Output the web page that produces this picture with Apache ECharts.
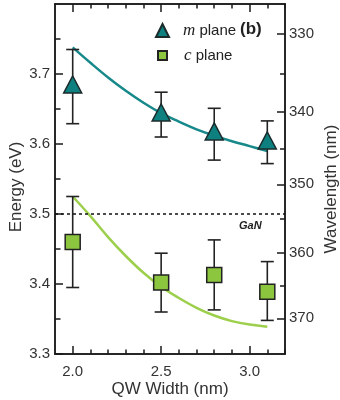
<!DOCTYPE html>
<html>
<head>
<meta charset="utf-8">
<script src="https://cdn.jsdelivr.net/npm/echarts@6/dist/echarts.min.js"></script>
<style>html,body{margin:0;padding:0;background:#fff;}#c{width:340px;height:400px;}</style>
</head>
<body>
<div id="c"></div>
<script>
// ---- data ----
const widths = [2.0, 2.5, 2.8, 3.1];
const mEnergy = [3.685, 3.645, 3.618, 3.605];
const mLow = [3.629, 3.610, 3.577, 3.572];
const mHigh = [3.735, 3.674, 3.651, 3.633];
const cEnergy = [3.460, 3.402, 3.413, 3.389];
const cLow = [3.395, 3.360, 3.363, 3.348];
const cHigh = [3.525, 3.444, 3.463, 3.432];
const fitWidths = [2.0, 2.1, 2.2, 2.3, 2.4, 2.5, 2.6, 2.7, 2.8, 2.9, 3.0, 3.1];
const mFit = [3.738, 3.716, 3.695, 3.676, 3.659, 3.644, 3.632, 3.621, 3.612, 3.604, 3.597, 3.590];
const cFit = [3.525, 3.497, 3.467, 3.440, 3.416, 3.396, 3.380, 3.366, 3.355, 3.347, 3.342, 3.339];
const ganEnergy = 3.5;
const xMajorTicks = [2.0, 2.5, 3.0];
const xMinorTicks = [2.1, 2.2, 2.3, 2.4, 2.6, 2.7, 2.8, 2.9, 3.1, 3.2];
const eMajorTicks = [3.3, 3.4, 3.5, 3.6, 3.7];
const eMinorTicks = [3.35, 3.45, 3.55, 3.65, 3.75];
const lambdaMajor = [330, 340, 350, 360, 370];
const lambdaMinor = [335, 345, 355, 365];
const HC = 1239.84;

// ---- chart ----
const font = "'Liberation Sans', Arial, sans-serif";
const axisColor = '#1a1a1a';
const labelColor = '#333';
const X_MIN = 1.9, X_MAX = 3.2, Y_MIN = 3.3, Y_MAX = 3.8;

function xAx(pos, ticks, len, withLabel) {
  return {
    type: 'value', position: pos, min: X_MIN, max: X_MAX,
    axisLine: { show: true, onZero: false, lineStyle: { color: axisColor, width: 1.5 } },
    axisTick: { show: true, inside: true, length: len, customValues: ticks, lineStyle: { color: axisColor, width: 1.5 } },
    axisLabel: withLabel ? { show: true, customValues: xMajorTicks, margin: 10, fontSize: 15, color: labelColor, fontFamily: font,
      formatter: v => v.toFixed(1) } : { show: false },
    splitLine: { show: false }
  };
}
function yAx(pos, ticks, len, labels, fmt) {
  return {
    type: 'value', position: pos, min: Y_MIN, max: Y_MAX,
    axisLine: { show: true, onZero: false, lineStyle: { color: axisColor, width: 1.5 } },
    axisTick: { show: true, inside: true, length: len, customValues: ticks, lineStyle: { color: axisColor, width: 1.5 } },
    axisLabel: labels ? { show: true, customValues: labels, margin: pos === 'left' ? 5 : 4, fontSize: 15, color: labelColor, fontFamily: font,
      formatter: fmt } : { show: false },
    splitLine: { show: false }
  };
}

const xAxes = [
  Object.assign(xAx('bottom', xMajorTicks, 8, true), {
    name: 'QW Width (nm)', nameLocation: 'middle', nameGap: 27, nameMoveOverlap: false,
    nameTextStyle: { fontSize: 17, color: labelColor, fontFamily: font }
  }),
  xAx('bottom', xMinorTicks, 4.5, false),
  xAx('top', xMajorTicks, 8, false),
  xAx('top', xMinorTicks, 4.5, false)
];
const lamE = l => HC / l;
const yAxes = [
  Object.assign(yAx('left', eMajorTicks, 8, eMajorTicks, v => v.toFixed(1)), {
    name: 'Energy (eV)', nameLocation: 'middle', nameGap: 30, nameRotate: 90, nameMoveOverlap: false,
    nameTextStyle: { fontSize: 17, color: labelColor, fontFamily: font, padding: [0, 16, 0, 0] }
  }),
  yAx('left', eMinorTicks, 5.5, null),
  Object.assign(yAx('right', lambdaMajor.map(lamE), 8, lambdaMajor.map(lamE), v => String(Math.round(HC / v))), {
    name: 'Wavelength (nm)', nameLocation: 'middle', nameGap: 38, nameRotate: 90, nameMoveOverlap: false,
    nameTextStyle: { fontSize: 17, color: labelColor, fontFamily: font, padding: [0, 20, 0, 0] }
  }),
  yAx('right', lambdaMinor.map(lamE), 5, null)
];

function errSeries(lo, hi) {
  return {
    type: 'custom', xAxisIndex: 0, yAxisIndex: 0, z: 3,
    data: widths.map((w, i) => [w, lo[i], hi[i]]),
    encode: { x: 0, y: [1, 2] },
    renderItem: function (params, api) {
      const x = api.value(0), l = api.value(1), h = api.value(2);
      const t = api.coord([x, h]), b = api.coord([x, l]);
      const hw = 6.5;
      const st = { stroke: '#222', lineWidth: 1.6 };
      return { type: 'group', children: [
        { type: 'line', shape: { x1: t[0], y1: t[1], x2: b[0], y2: b[1] }, style: st },
        { type: 'line', shape: { x1: t[0] - hw, y1: t[1], x2: t[0] + hw, y2: t[1] }, style: st },
        { type: 'line', shape: { x1: b[0] - hw, y1: b[1], x2: b[0] + hw, y2: b[1] }, style: st }
      ] };
    }
  };
}

const tealFill = '#0f8080', tealLine = '#17898a';
const greenFill = '#8cc63f', greenLine = '#9ccf4b';

const option = {
  animation: false,
  backgroundColor: '#fff',
  grid: { left: 55, right: 55, top: 4, bottom: 46, containLabel: false, outerBoundsMode: 'none' },
  xAxis: xAxes,
  yAxis: yAxes,
  title: [
    { text: '(b)', left: 240, top: 21, padding: 0, textStyle: { fontSize: 17, fontWeight: 'bold', color: '#222', fontFamily: font } },
    { text: 'GaN', left: 239, top: 220, padding: 0, textStyle: { fontSize: 11, fontWeight: 'bold', fontStyle: 'italic', color: '#222', fontFamily: font } }
  ],
  legend: [
    { left: 155, top: 22, padding: 0, itemWidth: 13, itemHeight: 13, selectedMode: false, orient: 'vertical',
      data: [{ name: 'm plane', icon: 'triangle' }],
      formatter: () => '{s|}{i|m}{t| plane}',
      textStyle: { rich: {
        s: { width: 9 },
        i: { fontFamily: "'Liberation Serif', serif", fontStyle: 'italic', fontSize: 17, color: '#222' },
        t: { fontFamily: font, fontSize: 15, color: '#222' } } } },
    { left: 157, top: 47, padding: 0, itemWidth: 9, itemHeight: 9, selectedMode: false, orient: 'vertical',
      data: [{ name: 'c plane', icon: 'rect' }],
      formatter: () => '{s|}{i|c}{t| plane}',
      textStyle: { rich: {
        s: { width: 12 },
        i: { fontFamily: "'Liberation Serif', serif", fontStyle: 'italic', fontSize: 17, color: '#222' },
        t: { fontFamily: font, fontSize: 15, color: '#222' } } } }
  ],
  series: [
    {
      name: 'GaN', type: 'line', data: [], xAxisIndex: 0, yAxisIndex: 0,
      markLine: { silent: true, symbol: 'none', label: { show: false },
        lineStyle: { color: '#111', type: [3, 3], width: 1.5 },
        data: [{ yAxis: ganEnergy }] }
    },
    { name: 'm fit', type: 'line', smooth: 0.4, showSymbol: false, z: 2,
      data: fitWidths.map((w, i) => [w, mFit[i]]),
      lineStyle: { color: tealLine, width: 2.5 } },
    { name: 'c fit', type: 'line', smooth: 0.4, showSymbol: false, z: 2,
      data: fitWidths.map((w, i) => [w, cFit[i]]),
      lineStyle: { color: greenLine, width: 2.5 } },
    errSeries(mLow, mHigh),
    errSeries(cLow, cHigh),
    { name: 'm plane', type: 'scatter', symbol: 'triangle', symbolSize: [18, 17], z: 4,
      data: widths.map((w, i) => [w, mEnergy[i]]),
      itemStyle: { color: tealFill, borderColor: '#1b2b2b', borderWidth: 1.5, opacity: 1 } },
    { name: 'c plane', type: 'scatter', symbol: 'rect', symbolSize: 15, z: 4,
      data: widths.map((w, i) => [w, cEnergy[i]]),
      itemStyle: { color: greenFill, borderColor: '#222', borderWidth: 1.5, opacity: 1 } }
  ]
};
const chart = echarts.init(document.getElementById('c'), null, { renderer: 'canvas' });
chart.setOption(option);
</script>
</body>
</html>
